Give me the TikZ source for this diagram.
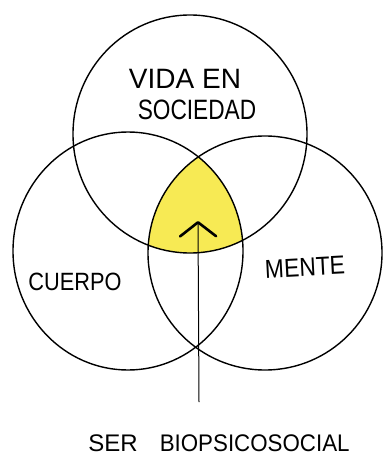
\documentclass[tikz,border=0pt]{standalone}
\usepackage{fontspec}
\setmainfont{Liberation Sans}
\usetikzlibrary{arrows.meta}
\definecolor{venny}{RGB}{247,234,84}
\begin{document}
\begin{tikzpicture}[x=1pt,y=-1pt,
  ring/.style={draw=black,line width=1.4pt},
  lbl/.style={inner sep=0pt, anchor=center, text=black}]
\useasboundingbox (0,0) rectangle (385,457);
\fill[white] (0,0) rectangle (385,457);
% yellow triple intersection
\begin{scope}
  \clip (190,134) ellipse [x radius=117, y radius=119];
  \clip (128,251) ellipse [x radius=115, y radius=119];
  \fill[venny] (265,253) ellipse [x radius=117, y radius=117];
\end{scope}
% circles
\draw[ring] (190,134) ellipse [x radius=117, y radius=119];
\draw[ring] (128,251) ellipse [x radius=115, y radius=119];
\draw[ring] (265,253) ellipse [x radius=117, y radius=117];
% labels
\node[lbl, font=\fontsize{28}{30}\selectfont] (vida) at (185,79) {VIDA EN};
\node[lbl, font=\fontsize{28}{30}\selectfont] (soc) at (197,110) {\scalebox{0.81}[1]{SOCIEDAD}};
\node[lbl, font=\fontsize{25}{27}\selectfont] (cuerpo) at (75,282) {\scalebox{0.87}[1]{CUERPO}};
\node[lbl, font=\fontsize{26}{28}\selectfont, rotate=3] (mente) at (305,267) {\scalebox{0.88}[1]{MENTE}};
\node[lbl, font=\fontsize{24}{26}\selectfont] (ser) at (219,443) {SER\hspace{22pt}\scalebox{0.93}[1]{BIOPSICOSOCIAL}};
% arrow
\coordinate (tail) at (199,402);
\coordinate (tip) at (198,221);
\draw[line width=1pt, -{Straight Barb[length=14pt,width=36pt,line width=2.6pt,round]}] (tail) -- (tip);
\end{tikzpicture}
\end{document}
